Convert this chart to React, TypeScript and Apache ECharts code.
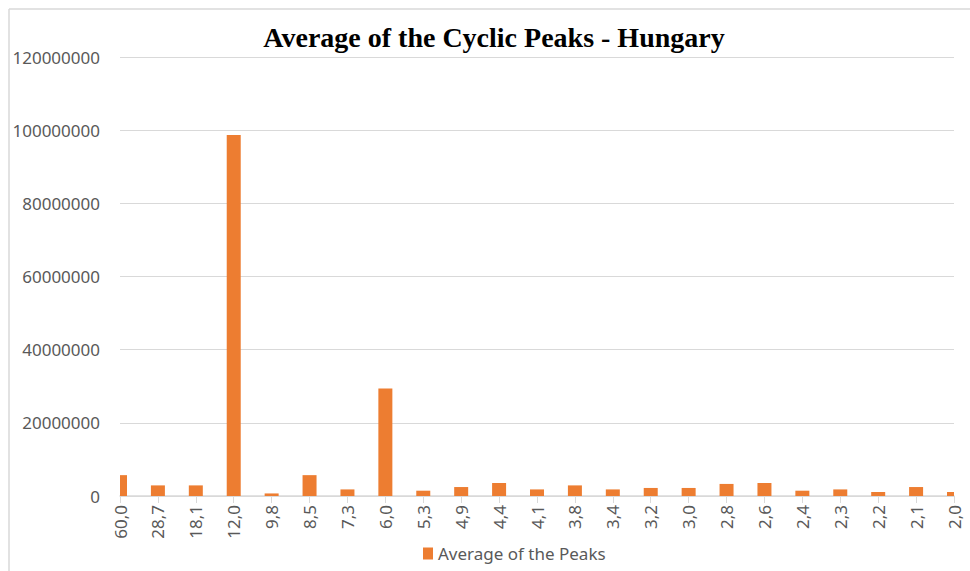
import React, { useEffect, useRef } from "react";
import * as echarts from "echarts";

const categories = ["60,0", "28,7", "18,1", "12,0", "9,8", "8,5", "7,3", "6,0", "5,3", "4,9", "4,4", "4,1", "3,8", "3,4", "3,2", "3,0", "2,8", "2,6", "2,4", "2,3", "2,2", "2,1", "2,0"];
const peakValues = [5700000, 2900000, 2900000, 98700000, 700000, 5700000, 1800000, 29400000, 1450000, 2450000, 3550000, 1800000, 2900000, 1800000, 2200000, 2200000, 3300000, 3550000, 1450000, 1800000, 1100000, 2450000, 1100000];
const seriesName = "Average of the Peaks";
const titleText = "Average of the Cyclic Peaks - Hungary";

const labelFont = "'Liberation Sans Narrow', 'Noto Sans', Lato, sans-serif";
const BAR_W = 14;

export default function App() {
  const ref = useRef<HTMLDivElement>(null);
  useEffect(() => {
    document.body.style.margin = "0";
    const chart = echarts.init(ref.current!, null, { renderer: "svg" });
    const barData = peakValues.map((v, i) => [i, v]);
    chart.setOption({
      animation: false,
      backgroundColor: "#ffffff",
      title: {
        text: titleText,
        left: 489,
        textAlign: "center",
        top: 18,
        textStyle: { fontFamily: "'Liberation Serif', 'DejaVu Serif', serif", fontWeight: "bold", fontSize: 28, color: "#000000" },
      },
      graphic: [
        { type: "line", shape: { x1: 9, y1: 9, x2: 970, y2: 9 }, style: { stroke: "#d9d9d9", lineWidth: 1.5 } },
        { type: "line", shape: { x1: 9, y1: 9, x2: 9, y2: 571 }, style: { stroke: "#d9d9d9", lineWidth: 1.5 } },
      ],
      legend: {
        data: [seriesName],
        left: 423,
        top: 545,
        padding: 0,
        icon: "rect",
        itemWidth: 10,
        itemHeight: 12,
        itemGap: 4,
        itemStyle: { color: "#ED7D31" },
        textStyle: { fontFamily: labelFont, fontSize: 17, color: "#595959" },
      },
      grid: { left: 120, right: 16, top: 57, bottom: 75, containLabel: false },
      xAxis: {
        type: "category",
        data: categories,
        boundaryGap: false,
        axisLine: { lineStyle: { color: "#d9d9d9", width: 1.5 } },
        axisTick: { show: true, length: 7, lineStyle: { color: "#d9d9d9" } },
        axisLabel: { rotate: 90, margin: 9, fontFamily: labelFont, fontSize: 17, color: "#595959", interval: 0 },
        splitLine: { show: false },
      },
      yAxis: {
        type: "value",
        min: 0,
        max: 120000000,
        interval: 20000000,
        axisLine: { show: false },
        axisTick: { show: false },
        axisLabel: { formatter: (v: number) => String(v), margin: 20, fontFamily: labelFont, fontSize: 17, color: "#595959" },
        splitLine: { lineStyle: { color: "#d9d9d9", width: 1.2 } },
      },
      series: [
        {
          name: seriesName,
          type: "custom",
          data: barData,
          encode: { x: 0, y: 1 },
          itemStyle: { color: "#ED7D31" },
          renderItem: (params: any, api: any) => {
            const top = api.coord([api.value(0), api.value(1)]);
            const base = api.coord([api.value(0), 0]);
            const cs = params.coordSys;
            const shape = echarts.graphic.clipRectByRect(
              { x: top[0] - BAR_W / 2, y: top[1], width: BAR_W, height: base[1] - top[1] },
              { x: cs.x, y: cs.y, width: cs.width, height: cs.height }
            );
            if (!shape) return null;
            return { type: "rect", shape, style: { fill: "#ED7D31" } };
          },
        },
      ],
    });
    return () => chart.dispose();
  }, []);
  return <div ref={ref} style={{ width: 970, height: 571 }} />;
}
